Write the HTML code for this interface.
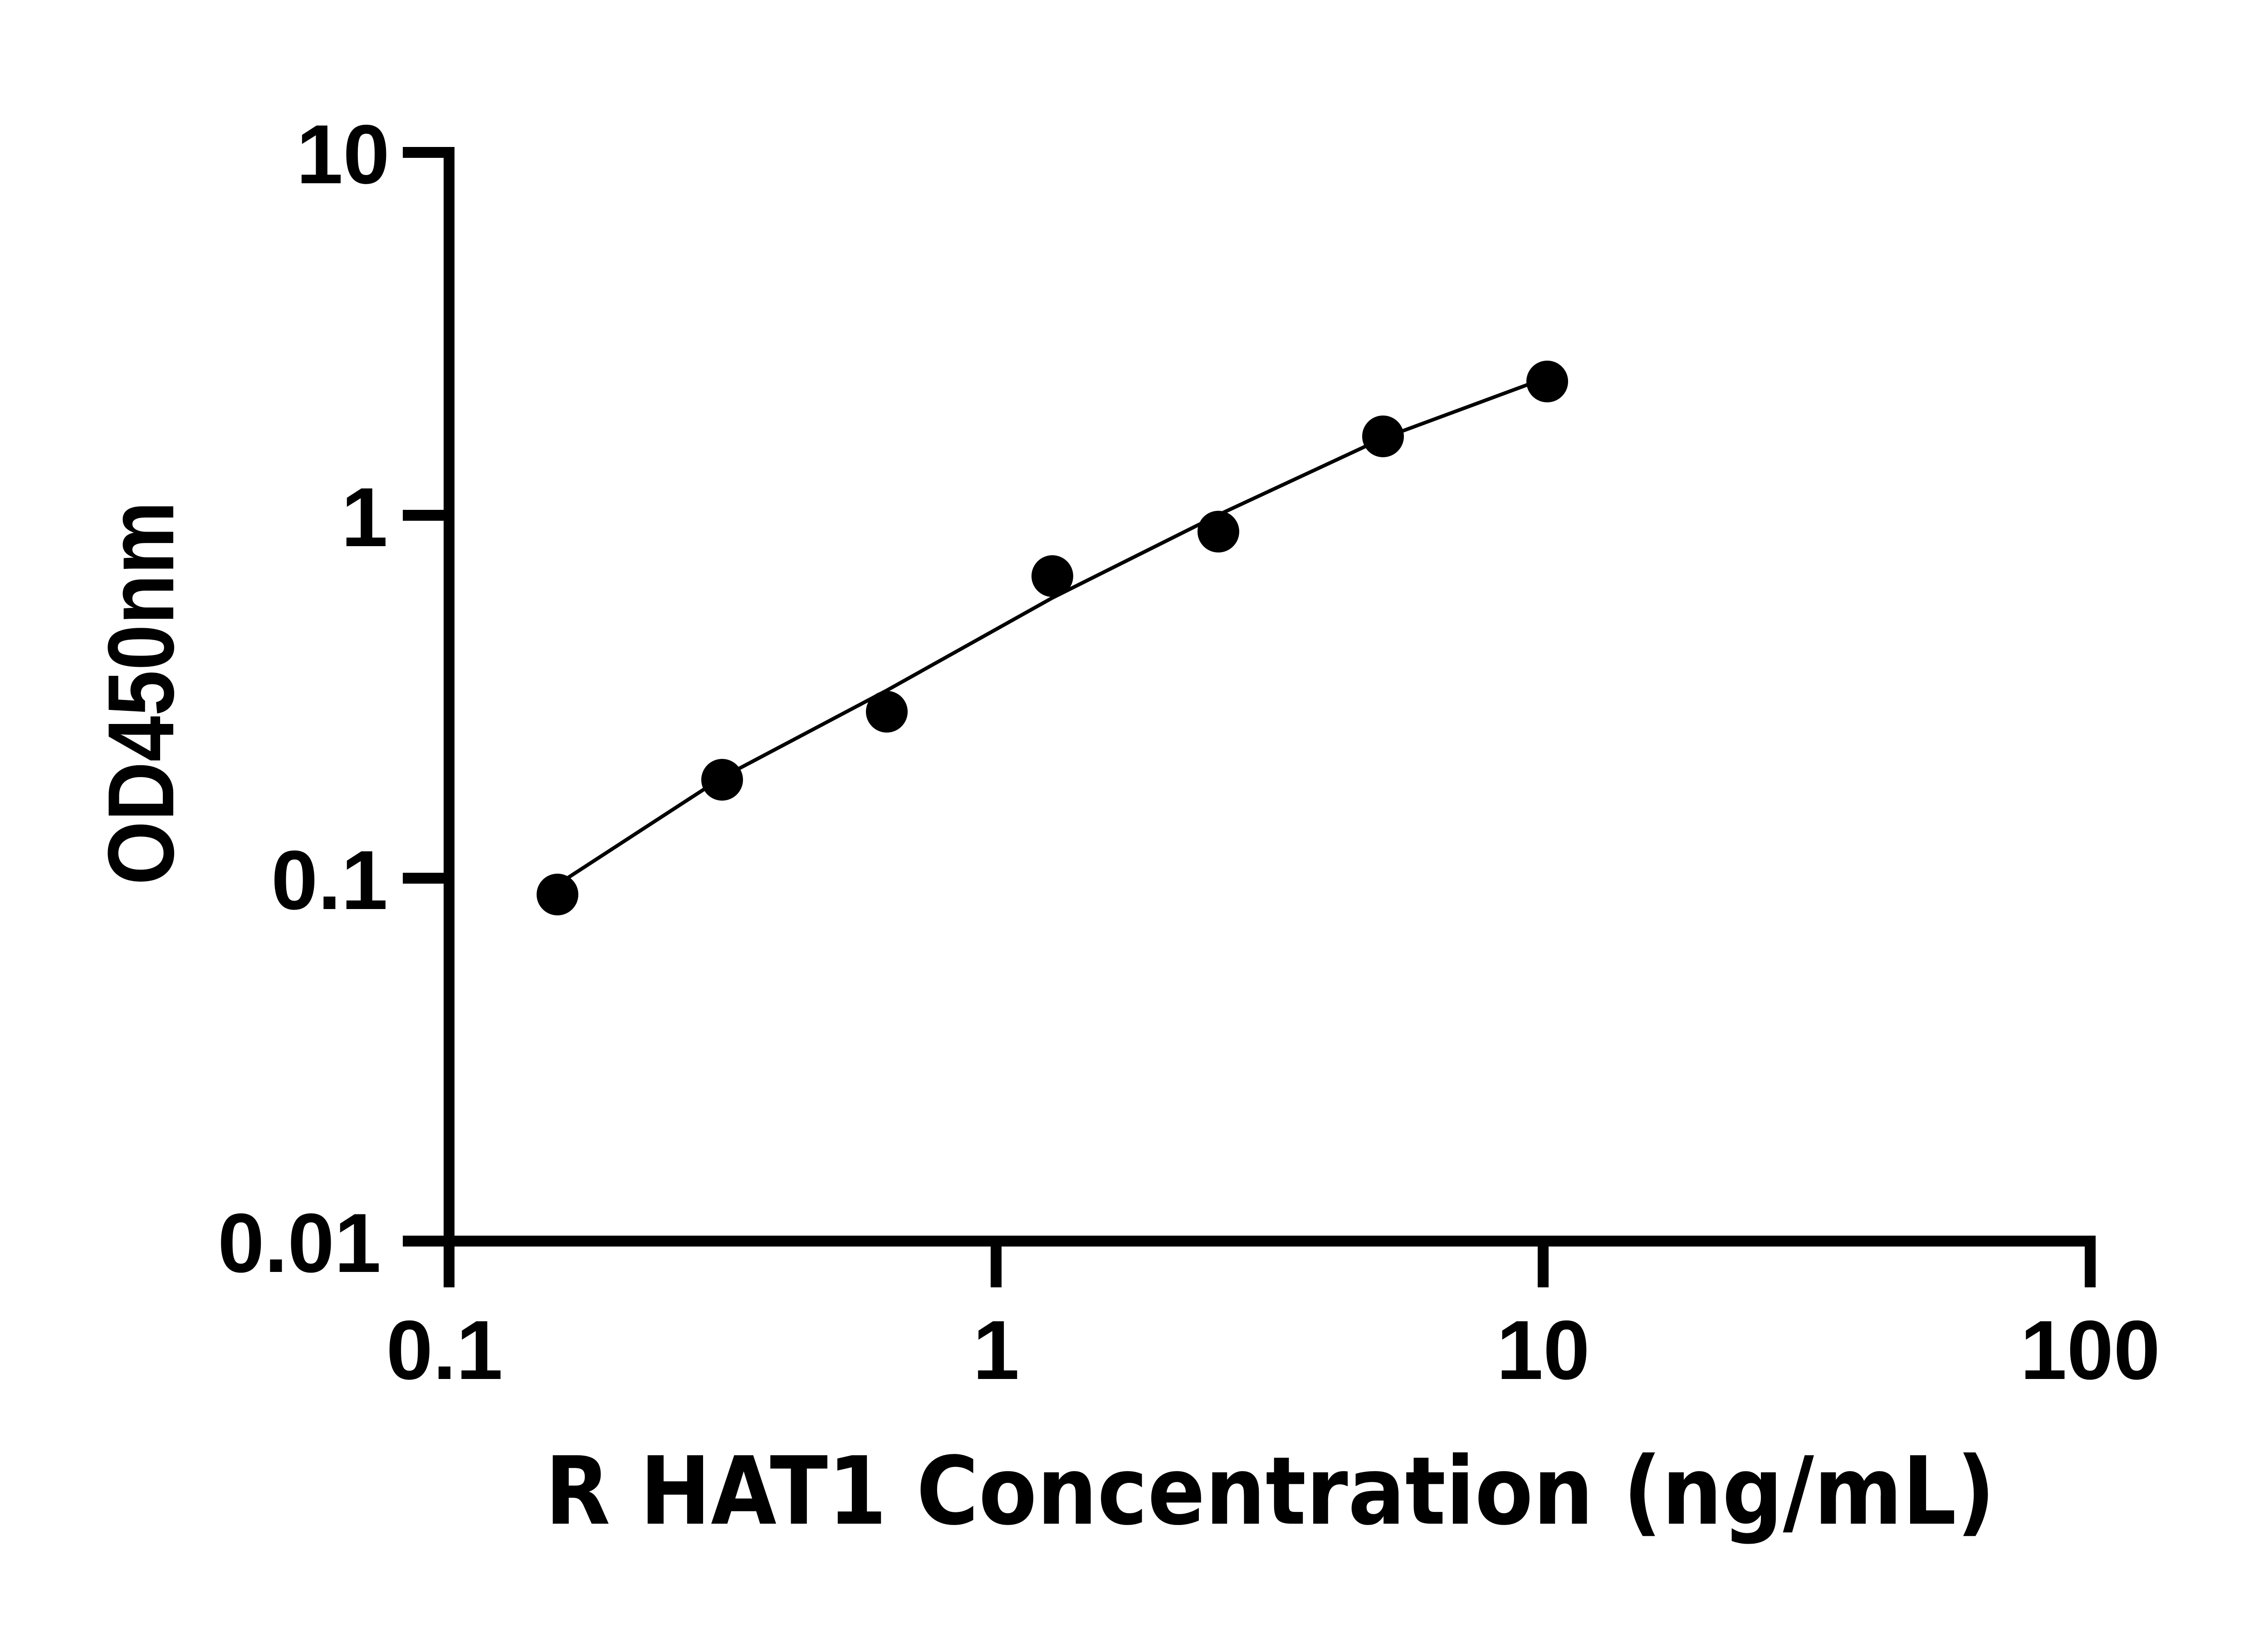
<!DOCTYPE html>
<html><head><style>html,body{margin:0;padding:0;background:#fff}svg{display:block}</style></head>
<body>
<svg width="5142" height="3600" viewBox="0 0 5142 3600" xmlns="http://www.w3.org/2000/svg">
<g stroke="#000" stroke-width="24" fill="none">
<line x1="990" y1="324" x2="990" y2="2748"/>
<line x1="978" y1="2736" x2="4614" y2="2736"/>
<line x1="888" y1="336" x2="1002" y2="336"/>
<line x1="888" y1="1136" x2="990" y2="1136"/>
<line x1="888" y1="1936" x2="990" y2="1936"/>
<line x1="888" y1="2736" x2="990" y2="2736"/>
<line x1="990" y1="2736" x2="990" y2="2838"/>
<line x1="2196" y1="2736" x2="2196" y2="2838"/>
<line x1="3402" y1="2736" x2="3402" y2="2838"/>
<line x1="4608" y1="2724" x2="4608" y2="2838"/>
</g>
<g style="font-family:'Liberation Sans',Arial,sans-serif;font-weight:bold;font-size:185px" fill="#000">
<text x="859" y="404" text-anchor="end">10</text>
<text x="855" y="1204" text-anchor="end">1</text>
<text x="855" y="2004" text-anchor="end">0.1</text>
<text x="840" y="2804" text-anchor="end">0.01</text>
<text x="980" y="3040" text-anchor="middle">0.1</text>
<text x="2196" y="3040" text-anchor="middle">1</text>
<text x="3402" y="3040" text-anchor="middle">10</text>
<text x="4608" y="3040" text-anchor="middle">100</text>
</g>
<polyline fill="none" stroke="#000" stroke-width="8" stroke-linejoin="round" points="1229,1950 1592,1714 1955,1522 2320,1318 2686,1135 3049,966 3368,848"/>
<g fill="#000">
<circle cx="1229" cy="1972" r="46"/>
<circle cx="1592" cy="1719" r="46"/>
<circle cx="1955" cy="1569" r="46"/>
<circle cx="2320" cy="1270" r="46"/>
<circle cx="2686" cy="1172" r="46"/>
<circle cx="3049" cy="962" r="46"/>
<circle cx="3411" cy="841" r="46"/>
</g>
<text x="2800" y="3359" style="font-family:'DejaVu Sans','Liberation Sans',sans-serif;font-weight:bold;font-size:207px" fill="#000" text-anchor="middle" textLength="3197" lengthAdjust="spacingAndGlyphs">R HAT1 Concentration (ng/mL)</text>
<text transform="translate(382,1528) rotate(-90)" style="font-family:'Liberation Sans',Arial,sans-serif;font-weight:bold;font-size:207px" fill="#000" text-anchor="middle" textLength="846" lengthAdjust="spacingAndGlyphs">OD450nm</text>
</svg>
</body></html>
